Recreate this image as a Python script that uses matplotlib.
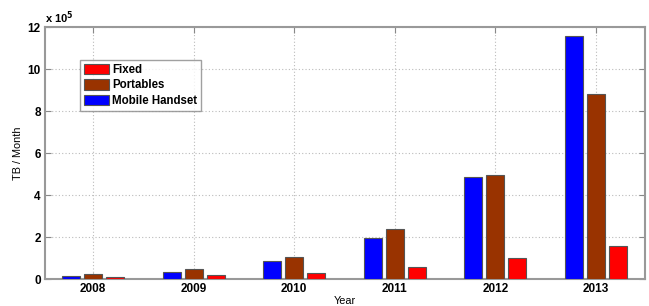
import matplotlib
matplotlib.use("Agg")
import matplotlib.pyplot as plt
from matplotlib.ticker import FuncFormatter, MultipleLocator
import numpy as np

years = [2008, 2009, 2010, 2011, 2012, 2013]
mobile_handset = [16000, 35000, 84000, 195000, 486000, 1157000]
portables = [22000, 49000, 106000, 237000, 495000, 881000]
fixed = [8000, 18000, 29000, 56000, 101000, 156000]

c_fixed = "#FF0000"
c_port = "#993300"
c_mob = "#0000FF"

plt.rcParams['font.family'] = ['Liberation Sans', 'DejaVu Sans']
plt.rcParams['font.weight'] = 'bold'

fig = plt.figure(figsize=(6.49, 3.06), dpi=100)
ax = fig.add_axes([45/649, 1-279/306, 600/649, 252/306])

x = np.array(years, dtype=float)
w = 0.18
off = 0.22
kw = dict(edgecolor="#555555", linewidth=0.8, zorder=3)
b_mob = ax.bar(x - off, mobile_handset, w, color=c_mob, label="Mobile Handset", **kw)
b_port = ax.bar(x, portables, w, color=c_port, label="Portables", **kw)
b_fix = ax.bar(x + off, fixed, w, color=c_fixed, label="Fixed", **kw)

ax.set_xlim(2007.52, 2013.49)
ax.set_ylim(0, 1.2e6)
ax.set_xticks(years)
ax.yaxis.set_major_locator(MultipleLocator(2e5))
ax.yaxis.set_major_formatter(FuncFormatter(lambda v, p: f"{v/1e5:g}"))

ax.grid(True, linestyle=(0, (1, 2)), color="#bbbbbb", linewidth=0.8, zorder=0)
ax.set_axisbelow(True)
ax.tick_params(direction='in', top=True, right=True, length=4, color="#888888",
               labelsize=8.5, pad=3)
for lab in ax.get_xticklabels() + ax.get_yticklabels():
    lab.set_fontweight('bold')
for s in ax.spines.values():
    s.set_color("#999999")
    s.set_linewidth(1.5)

ax.text(0.0, 1.005, r"x 10$^{5}$", transform=ax.transAxes, fontsize=8,
        fontweight='bold', ha='left', va='bottom')
ax.set_ylabel("TB / Month", fontsize=7.8, fontweight='normal')
ax.yaxis.set_label_coords(-0.036, 0.5)
ax.set_xlabel("Year", fontsize=7.8, fontweight='normal')
ax.xaxis.set_label_coords(0.5, -0.068)

leg = ax.legend(handles=[b_fix, b_port, b_mob], loc='upper left',
                bbox_to_anchor=(0.058, 0.87), fontsize=8.3, frameon=True,
                fancybox=False, edgecolor="#888888", handlelength=2.2,
                handleheight=1.0, labelspacing=0.3, borderpad=0.35,
                handletextpad=0.25, borderaxespad=0)
leg.get_frame().set_linewidth(1.0)
for t in leg.get_texts():
    t.set_fontweight('bold')

fig.savefig("out.png", dpi=100)
